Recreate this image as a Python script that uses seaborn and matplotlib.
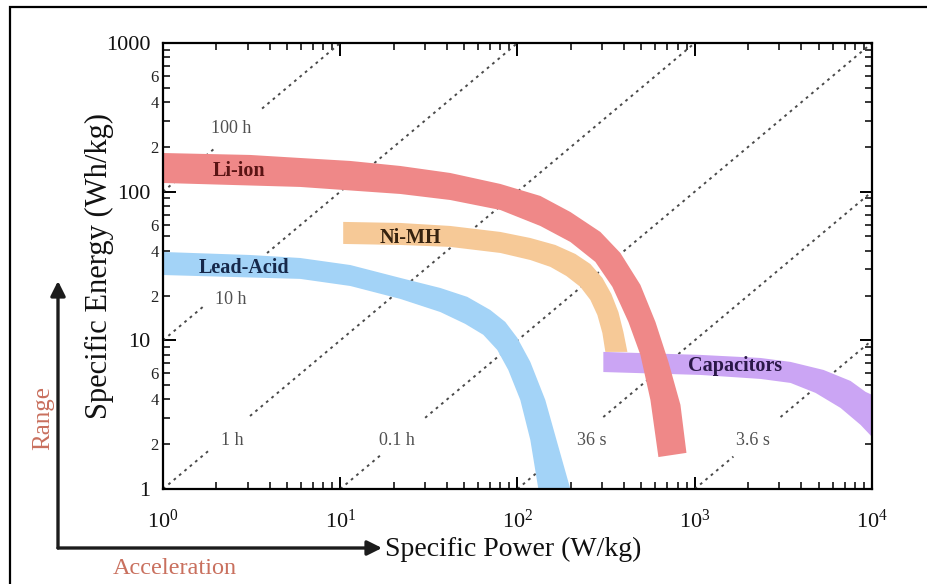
import numpy as np
import pandas as pd
import matplotlib
matplotlib.use("Agg")
import matplotlib.pyplot as plt
import seaborn as sns
from matplotlib.patches import FancyArrowPatch, Rectangle
from matplotlib.ticker import FixedLocator, FixedFormatter

# ---- Ragone regions: edges as (specific power W/kg, specific energy Wh/kg) ----
li_ion_upper_p = [1, 3.10, 5.94, 11.4, 21.8, 41.7, 80.0, 134.5, 198.7, 293.4,
                  380.5, 493.6, 600.1, 710.5, 830.5, 897.8]
li_ion_upper_e = [182, 176.6, 168.5, 160.9, 148.9, 133.6, 112.7, 93.6, 73.0, 53.6,
                  38.7, 23.6, 13.3, 7.16, 3.68, 1.75]
li_ion_lower_p = [1, 5.94, 21.8, 41.7, 80.0, 134.5, 198.7, 274.9, 343, 422.4,
                  493.6, 562.2, 623.7]
li_ion_lower_e = [114.4, 107.6, 96.5, 87.9, 75.3, 58.8, 45.9, 33.7, 22.9, 13.3,
                  7.98, 3.97, 1.64]

nimh_upper_p = [10.39, 21.8, 41.7, 80.0, 118.1, 163.5, 212.1, 257.7, 301.2, 338.5,
                371, 395.8, 416.9]
nimh_upper_e = [62.6, 61.6, 58.8, 53.6, 48.8, 43.8, 38.1, 32.6, 26.3, 20.5,
                15.5, 11.4, 8.36]
nimh_lower_p = [10.39, 21.8, 41.7, 80.0, 118.1, 153.2, 188.6, 226.2, 257.7, 282.2,
                301.2, 313.1]
nimh_lower_e = [44.5, 43.8, 42.5, 38.7, 34.7, 31.2, 27.1, 22.9, 18.7, 14.8,
                11.2, 8.36]

lead_upper_p = [1, 3.10, 5.94, 11.4, 21.8, 36.7, 52.1, 70.2, 85.3, 99.7, 118.1,
                143.5, 167.8, 198.7]
lead_upper_e = [39.3, 37.5, 35.8, 32.1, 26.3, 22.5, 19.6, 16.0, 13.3, 10.4, 7.16,
                3.97, 2.04, 1.0]
lead_lower_p = [1, 5.94, 11.4, 21.8, 36.7, 50.7, 64.1, 76.9, 88.7, 103.7, 118.1,
                131.1]
lead_lower_e = [27.5, 25.9, 23.2, 19.0, 15.5, 12.9, 10.9, 8.62, 6.32, 3.97, 2.14,
                1.0]

cap_upper_p = [305, 1077, 2350, 3470, 5330, 7570, 9203, 10000]
cap_upper_e = [8.36, 7.98, 7.61, 7.16, 6.32, 5.33, 4.50, 4.30]
cap_lower_p = [305, 1077, 2350, 3470, 4803, 6646, 8620, 10000]
cap_lower_e = [6.12, 5.85, 5.50, 5.17, 4.43, 3.51, 2.70, 2.24]

band_names = ["Lead-Acid", "Ni-MH", "Capacitors", "Li-ion"]
band_colors = ["#a3d3f7", "#f6c997", "#cba5f4", "#ef8888"]
band_text_colors = ["#16284a", "#35220f", "#2a1848", "#5a1414"]
band_label_p = [2.87, 24.8, 1698, 2.69]
band_label_e = [30.7, 48.9, 6.73, 138]

# ---- constant discharge-time guide lines (E = t * P) ----
time_hours = [100, 10, 1, 0.1, 0.01, 0.001]
time_labels = ["100 h", "10 h", "1 h", "0.1 h", "36 s", "3.6 s"]
time_label_p = [2.42, 2.42, 2.45, 20.9, 261, 2118]
time_label_e = [268, 18.7, 2.11, 2.11, 2.11, 2.11]
gap_log_p = [(0.294, 0.559), (0.237, 0.587), (0.265, 0.491),
             (1.237, 1.479), (2.242, 2.484), (3.218, 3.484)]

x_ticks = [1, 10, 100, 1000, 10000]
x_tick_labels = [r"$\mathregular{10^{0}}$", r"$\mathregular{10^{1}}$",
                 r"$\mathregular{10^{2}}$", r"$\mathregular{10^{3}}$",
                 r"$\mathregular{10^{4}}$"]
y_ticks = [1, 10, 100, 1000]
y_tick_labels = ["1", "10", "100", "1000"]
y_minor_labeled = [2, 4, 6]

sns.set_theme(style="ticks")
plt.rcParams["font.family"] = ["Liberation Serif", "DejaVu Serif"]
plt.rcParams["mathtext.fontset"] = "stix"

W, H = 928, 584
fig = plt.figure(figsize=(W / 100, H / 100), dpi=100)
fig.patch.set_facecolor("white")
ax = fig.add_axes([163 / W, 1 - 489 / H, (872 - 163) / W, (489 - 43) / H])
ax.set_facecolor("white")
ax.set_xscale("log")
ax.set_yscale("log")
ax.set_xlim(1, 1e4)
ax.set_ylim(1, 1000)

# guide lines, broken where their labels sit
rows = []
for i, t in enumerate(time_hours):
    p0 = max(1.0, 1.0 / t)
    p1 = min(1e4, 1000.0 / t)
    g0, g1 = 10 ** gap_log_p[i][0], 10 ** gap_log_p[i][1]
    for k, (a, b) in enumerate([(p0, g0), (g1, p1)]):
        rows.append({"P": a, "E": a * t, "seg": f"{i}-{k}"})
        rows.append({"P": b, "E": b * t, "seg": f"{i}-{k}"})
guides = pd.DataFrame(rows)
sns.lineplot(data=guides, x="P", y="E", units="seg", estimator=None, sort=False,
             color="#4a4a4a", linewidth=1.4, linestyle=(0, (1.4, 2.2)),
             legend=False, ax=ax, zorder=1)
for lab, p, e in zip(time_labels, time_label_p, time_label_e):
    ax.text(p, e, lab, fontsize=13, color="#505050", ha="center", va="center", zorder=2)

# performance regions
bands = [
    (lead_upper_p, lead_upper_e, lead_lower_p, lead_lower_e),
    (nimh_upper_p, nimh_upper_e, nimh_lower_p, nimh_lower_e),
    (cap_upper_p, cap_upper_e, cap_lower_p, cap_lower_e),
    (li_ion_upper_p, li_ion_upper_e, li_ion_lower_p, li_ion_lower_e),
]
for j, (up, ue, lp, le) in enumerate(bands):
    px = list(up) + list(lp)[::-1]
    py = list(ue) + list(le)[::-1]
    ax.fill(px, py, color=band_colors[j], lw=0, zorder=3 + j)
    ax.text(band_label_p[j], band_label_e[j], band_names[j], fontsize=14.5,
            fontweight="bold", color=band_text_colors[j], ha="center",
            va="center", zorder=10)

# axes styling
for s in ax.spines.values():
    s.set_visible(True)
    s.set_linewidth(1.6)
    s.set_color("black")
    s.set_zorder(12)

ax.xaxis.set_major_locator(FixedLocator(x_ticks))
ax.xaxis.set_major_formatter(FixedFormatter(x_tick_labels))
x_minor = [m * 10 ** d for d in range(4) for m in range(2, 10)]
ax.xaxis.set_minor_locator(FixedLocator(x_minor))
ax.xaxis.set_minor_formatter(FixedFormatter([""] * len(x_minor)))

ax.yaxis.set_major_locator(FixedLocator(y_ticks))
ax.yaxis.set_major_formatter(FixedFormatter(y_tick_labels))
y_minor = [m * 10 ** d for d in range(3) for m in range(2, 10)]
y_minor_txt = [str(m) if m in y_minor_labeled else "" for d in range(3) for m in range(2, 10)]
ax.yaxis.set_minor_locator(FixedLocator(y_minor))
ax.yaxis.set_minor_formatter(FixedFormatter(y_minor_txt))

ax.tick_params(which="both", direction="in", top=True, right=True, color="black")
ax.tick_params(which="major", length=9, width=1.4)
ax.tick_params(which="minor", length=5, width=1.1)
ax.tick_params(axis="x", which="major", labelsize=16, pad=15, labelcolor="#111")
ax.tick_params(axis="y", which="major", labelsize=16, pad=9, labelcolor="#111")
ax.tick_params(axis="y", which="minor", labelsize=12, pad=3, labelcolor="#222")

ax.set_xlabel("Specific Power (W/kg)", fontsize=20, color="#111")
ax.xaxis.set_label_coords((513 - 163) / 709, (489 - 537) / 446)
ax.set_ylabel("Specific Energy (Wh/kg)", fontsize=22, color="#111")
ax.yaxis.set_label_coords((114 - 163) / 709, 0.5)

# Range / Acceleration arrows
corner = (58 / W, 1 - 548 / H)
for tip in [(58 / W, 1 - 281 / H), (382 / W, 1 - 548 / H)]:
    fig.add_artist(FancyArrowPatch(corner, tip, transform=fig.transFigure,
                                   arrowstyle="-|>", mutation_scale=22,
                                   lw=2.4, color="#1c1c1c", shrinkA=0, shrinkB=0))
fig.text(43 / W, 1 - 418 / H, "Range", rotation=90, ha="center", va="center",
         fontsize=18, color="#c9705e")
fig.text(175 / W, 1 - 568 / H, "Acceleration", ha="center", va="center",
         fontsize=17.5, color="#c9705e")

# frame around the figure
fig.add_artist(Rectangle((10 / W, -0.05), 1.2, (1 - 7 / H) + 0.05,
                         transform=fig.transFigure, fill=False, lw=1.6,
                         ec="black"))

fig.savefig("out.png", dpi=100)
